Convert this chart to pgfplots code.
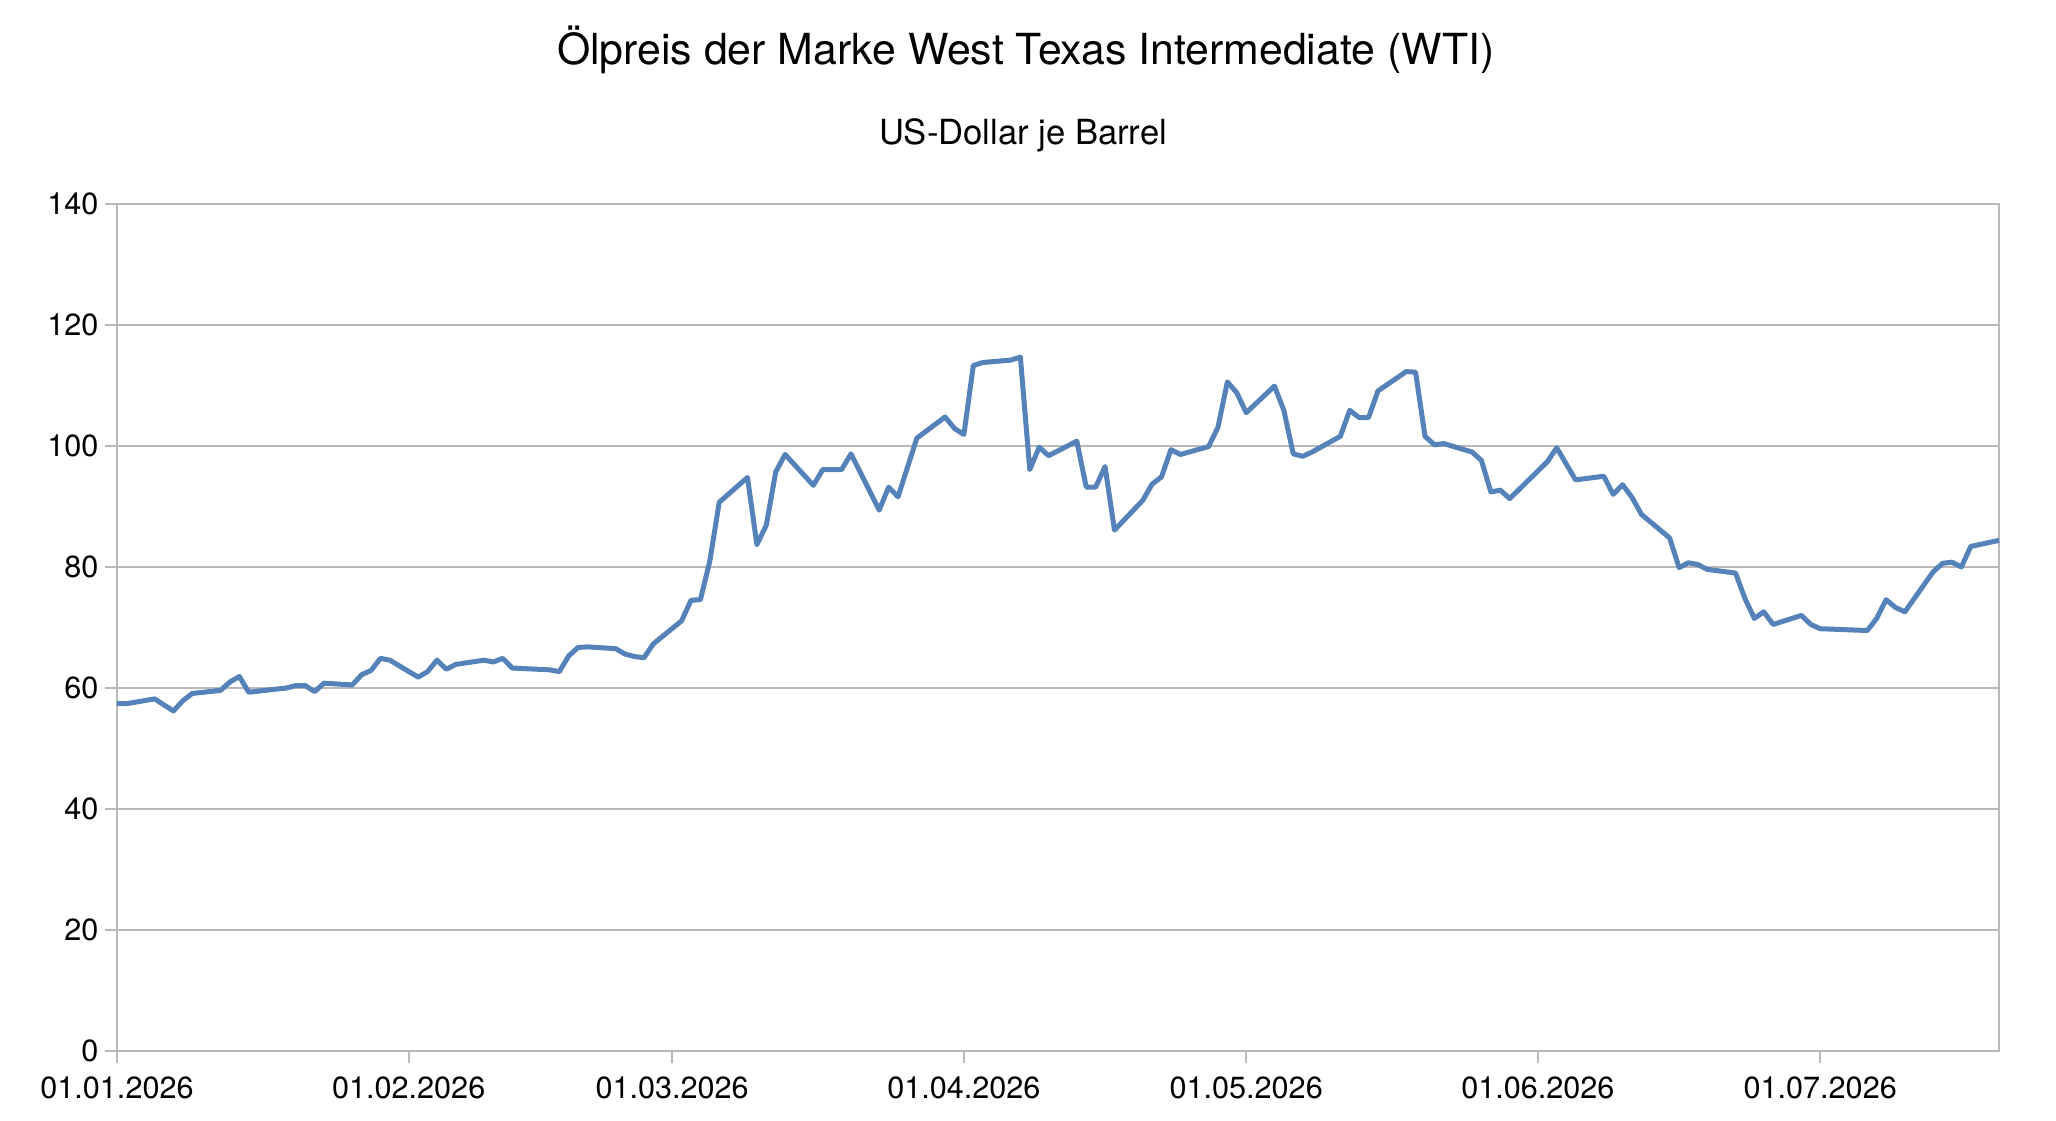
\documentclass[border=0pt]{standalone}
\usepackage{pgfplots}
\pgfplotsset{compat=1.18}
\usepackage{fontspec}
\setmainfont{TeX Gyre Heros}
\definecolor{wti}{RGB}{84,130,185}
\definecolor{gridc}{RGB}{185,185,185}
\begin{document}
\begin{tikzpicture}
\begin{axis}[
  name=ax, at={(0,0)}, anchor=south west,
  scale only axis, width=941pt, height=423.5pt,
  xmin=0, xmax=200, ymin=0, ymax=140,
  xtick={0,31,59,90,120,151,181},
  xticklabels={01.01.2026,01.02.2026,01.03.2026,01.04.2026,01.05.2026,01.06.2026,01.07.2026},
  ytick={0,20,40,60,80,100,120,140},
  ymajorgrids,
  major grid style={color=gridc, line width=0.85pt},
  axis line style={color=gridc, line width=0.85pt},
  tick style={color=gridc, line width=0.85pt},
  tick align=outside,
  major tick length=5.8pt,
  xtick pos=bottom, ytick pos=left,
  /pgf/number format/assume math mode=true,
  ticklabel style={font=\fontsize{15.3}{18}\selectfont, text=black},
  yticklabel style={inner sep=0pt, xshift=-3.3pt},
  xticklabel style={inner sep=0pt, yshift=-7pt},
  clip=false,
]
\addplot[color=wti, line width=2.5pt, line join=round] coordinates {
(0,57.4) (1,57.4) (4,58.2) (6,56.2) (7,57.9) (8,59.1) (11,59.6) (12,61.0) (13,61.9) (14,59.3)
(18,60.0) (19,60.4) (20,60.4) (21,59.4) (22,60.8) (25,60.5) (26,62.2) (27,62.9) (28,64.9) (29,64.6)
(32,61.8) (33,62.7) (34,64.6) (35,63.1) (36,63.9) (39,64.6) (40,64.3) (41,64.9) (42,63.3) (46,63.0)
(47,62.7) (48,65.3) (49,66.7) (50,66.8) (53,66.5) (54,65.6) (55,65.2) (56,65.0) (57,67.3)
(60,71.1) (61,74.5) (62,74.6) (63,81.0) (64,90.7) (67,94.8) (68,83.7) (69,86.9) (70,95.7) (71,98.6)
(74,93.5) (75,96.1) (77,96.1) (78,98.7) (81,89.4) (82,93.2) (83,91.6) (85,101.3) (88,104.8) (89,102.9)
(90,101.9) (91,113.3) (92,113.8) (95,114.2) (96,114.7) (97,96.1) (98,99.8) (99,98.4)
(102,100.8) (103,93.2) (104,93.2) (105,96.6) (106,86.1) (109,91.0) (110,93.7) (111,94.9) (112,99.4) (113,98.6)
(116,99.9) (117,103.1) (118,110.6) (119,108.8) (120,105.5) (123,109.9) (124,105.9) (125,98.7) (126,98.3) (127,99.0)
(130,101.6) (131,105.9) (132,104.7) (133,104.7) (134,109.1) (137,112.3) (138,112.2) (139,101.6) (140,100.2) (141,100.4)
(144,99.0) (145,97.6) (146,92.4) (147,92.7) (148,91.3) (152,97.4) (153,99.7) (155,94.4) (158,95.0) (159,92.0)
(160,93.6) (161,91.5) (162,88.7) (165,84.8) (166,79.9) (167,80.7) (168,80.4) (169,79.6) (172,79.0) (173,74.8)
(174,71.5) (175,72.6) (176,70.5) (179,72.0) (180,70.5) (181,69.8) (186,69.5) (187,71.5) (188,74.6) (189,73.3)
(190,72.6) (193,79.2) (194,80.6) (195,80.8) (196,80.0) (197,83.4) (200,84.4)
};
\end{axis}
\node[anchor=base, inner sep=0pt, font=\fontsize{21.4}{25}\selectfont] at ([xshift=454.5pt, yshift=69.5pt]ax.north west) {Ölpreis der Marke West Texas Intermediate (WTI)};
\node[anchor=base, inner sep=0pt, font=\fontsize{17.3}{20}\selectfont] at ([xshift=453pt, yshift=29.5pt]ax.north west) {US-Dollar je Barrel};
\path ([xshift=-58.5pt, yshift=-34.5pt]ax.south west) rectangle ++(1028pt,560pt);
\end{tikzpicture}
\end{document}
